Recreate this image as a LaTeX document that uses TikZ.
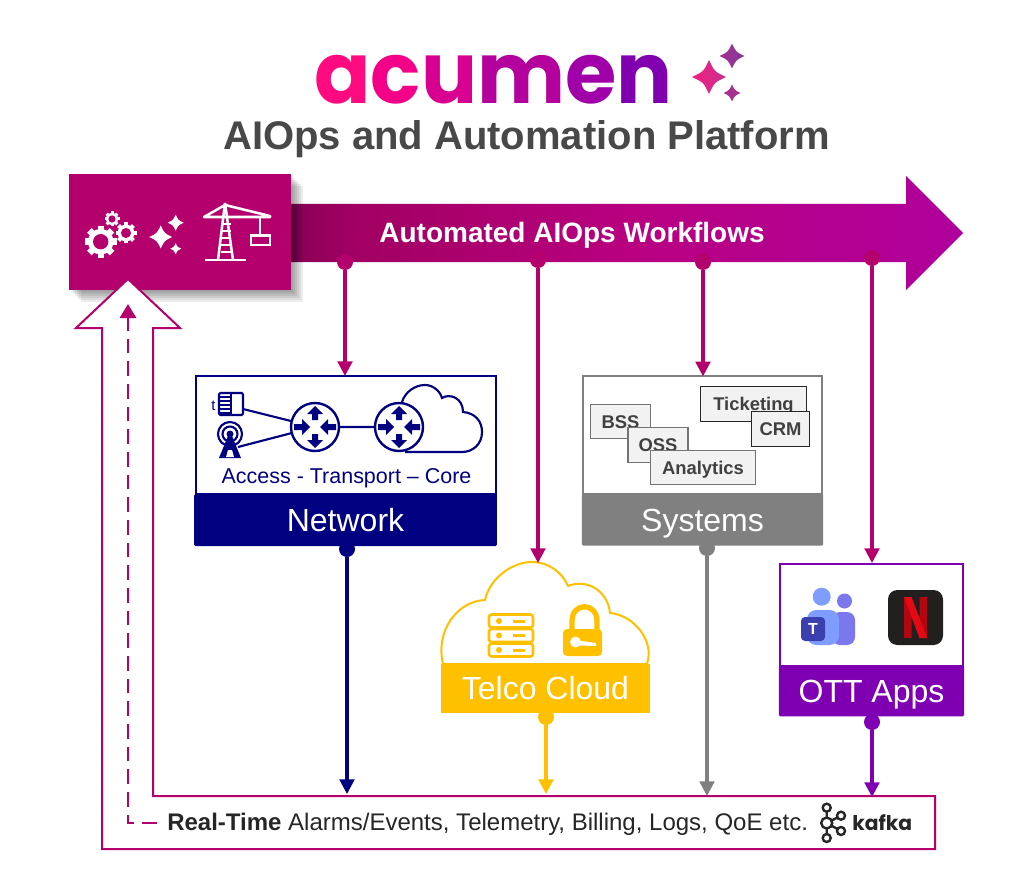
\documentclass[tikz,border=0pt]{standalone}
\usepackage{fontspec}
\setmainfont{Liberation Sans}
\newfontfamily\logofont{Poppins}
\usetikzlibrary{positioning}
\usetikzlibrary{arrows.meta}
\definecolor{acuPink}{HTML}{B4006C}
\definecolor{netBlue}{HTML}{000080}
\definecolor{sysGray}{HTML}{808080}
\definecolor{telcoGold}{HTML}{FFC000}
\definecolor{ottPurple}{HTML}{7F00B2}
\definecolor{titleGray}{HTML}{484848}
\definecolor{flowA}{HTML}{8A0058}
\definecolor{flowB}{HTML}{A20062}
\definecolor{flowC}{HTML}{B80080}
\definecolor{flowD}{HTML}{B0009C}
\definecolor{pinkA}{HTML}{F0207F}
\definecolor{pinkB}{HTML}{C8308F}
\definecolor{pinkC}{HTML}{A8308F}
\definecolor{pinkD}{HTML}{7F3A9F}
\definecolor{teamsA}{HTML}{7F9CFF}
\definecolor{teamsB}{HTML}{7B78EE}
\definecolor{teamsC}{HTML}{3A40AE}
\definecolor{netflixK}{HTML}{221F1F}
\definecolor{netflixA}{HTML}{E50914}
\definecolor{netflixB}{HTML}{B20710}
\pgfdeclarehorizontalshading{workflowShade}{100bp}{
  color(0bp)=(flowA); color(25bp)=(flowA); color(30bp)=(flowB);
  color(50bp)=(flowC); color(75bp)=(flowD); color(100bp)=(flowD)}
\tikzset{
  gear/.pic={
    \foreach \a in {0,45,...,315} {\fill[white,rotate=\a] (-.2,-1) rectangle (.2,-.7);}
    \fill[white] (0,0) circle (.8);
    \fill[acuPink] (0,0) circle (.48);
  },
  sparkle/.pic={
    \path[pic actions] (0,-1) .. controls (.32,-.32) .. (1,0) .. controls (.32,.32) .. (0,1)
      .. controls (-.32,.32) .. (-1,0) .. controls (-.32,-.32) .. (0,-1) -- cycle;
  },
  router/.pic={
    \draw[netBlue,line width=1.8pt,fill=white] (0,0) circle (24);
    \foreach \a in {0,180} {
      \fill[netBlue,rotate=\a] (-3,-7) rectangle (3,-13) (-8,-13) -- (8,-13) -- (0,-21) -- cycle;
    }
    \foreach \a in {90,270} {
      \fill[netBlue,rotate=\a] (-3,-13) rectangle (3,-21) (-8,-13) -- (8,-13) -- (0,-5) -- cycle;
    }
  }
}
\begin{document}
\begin{tikzpicture}[x=0.75pt,y=-0.75pt]
      \tikzstyle{panel} = [draw, line width=1.5pt, fill=white, outer sep=0pt, inner sep=0pt]
      \tikzstyle{banner} = [rounded corners=1pt, text=white, outer sep=0pt, inner sep=0pt, text height=17pt, text depth=0pt, font=\fontsize{24pt}{28pt}\selectfont]
      \tikzstyle{tool} = [draw, line width=0.9pt, fill=black!5, text=black!75, inner sep=0pt, outer sep=0pt, text height=10pt, text depth=0pt, font=\fontsize{13.8pt}{16pt}\selectfont\bfseries]
      \tikzstyle{dot} = [circle, inner sep=0pt, outer sep=0pt, minimum size=12pt]
      \tikzstyle{flow} = [line width=2.3pt, -{Triangle[length=11pt,width=11pt]}]
      \tikzstyle{icon} = [netBlue, line width=1.6pt]

      \useasboundingbox (0,0) rectangle (1020,891);
      \fill[white] (0,0) rectangle (1020,891);

      % logo
      \node (logoText) [anchor=base west, inner sep=0pt, xscale=.975, transform shape, font=\logofont\bfseries\fontsize{64pt}{70pt}\selectfont] at (314,104) {\textcolor[HTML]{FF0A80}{a}\textcolor[HTML]{F40088}{c}\textcolor[HTML]{D80090}{u}\textcolor[HTML]{B4009C}{m}\textcolor[HTML]{A000A8}{e}\textcolor[HTML]{8000B0}{n}};
      \pic[scale=17, left color=pinkA, right color=pinkB] at (709,77) {sparkle};
      \pic[scale=12.5, left color=pinkC, right color=pinkD] at (732,56) {sparkle};
      \pic[scale=8.5, fill=pinkC] at (732,93) {sparkle};
      \node (title) [inner sep=0pt, text=titleGray, font=\fontsize{30pt}{34pt}\selectfont\bfseries] at (526.5,139) {AIOps and Automation Platform};

      % workflow arrow
      \path[shading=workflowShade] (291,204) -- (906,204) -- (906,176) -- (963,233) -- (906,290) -- (906,262) -- (291,262) -- cycle;
      \node (workflows) [inner sep=0pt, text=white, font=\fontsize{21pt}{25pt}\selectfont\bfseries] at (572,235) {Automated AIOps Workflows};

      % control box with a soft shadow
      \foreach \s in {2,4,...,12} {
        \fill[black, opacity=0.07] (69+\s,174+\s) rectangle (291+\s,290+\s);
      }
      \node (control) [fill=acuPink, minimum width=166.5pt, minimum height=87pt, inner sep=0pt, outer sep=0pt] at (180,232) {};
      \pic[scale=16] at (100.7,241.7) {gear};
      \pic[scale=10.5] at (126,233) {gear};
      \pic[scale=7.5] at (112,219) {gear};
      \pic[scale=11.5, fill=white] at (160.7,237) {sparkle};
      \pic[scale=8, fill=white] at (175.7,222.7) {sparkle};
      \pic[scale=5.5, fill=white] at (175.7,248.7) {sparkle};
      \begin{scope}[white, line width=1.9pt]
        \draw (205,260) -- (246,260);
        \draw (225,203) -- (218,260) (225,203) -- (233,260);
        \foreach \y in {224,231,238,245,252} { \draw (220.5,\y) -- (230.5,\y); }
        \draw[line join=round] (204,217) -- (225,205) -- (270,216) -- (270,217) -- cycle;
        \draw (260,217) -- (260,235);
        \draw[line width=2.2pt] (251,235.5) rectangle (270,245);
      \end{scope}

      % feedback arrow and event bus
      \draw[acuPink, line width=1.5pt, fill=white] (102,849) -- (935,849) -- (935,796) -- (153,796) -- (153,328) -- (180,328) -- (128,279) -- (76,328) -- (102,328) -- cycle;
      \node (realTime) [anchor=west, inner sep=0pt, text=black!85, font=\fontsize{18pt}{21pt}\selectfont] at (167,824) {\textbf{Real-Time} Alarms/Events, Telemetry, Billing, Logs, QoE etc.};
      \coordinate (dashStart) at (157,823);
      \coordinate (dashEnd) at (128,304);
      \draw[acuPink, line width=2.2pt, dash pattern=on 11pt off 6pt, -{Triangle[length=10.5pt,width=12pt]}] (dashStart) -| (dashEnd);

      % kafka
      \begin{scope}[black!85, line width=1.8pt]
        \draw (826.7,807.7) -- (826.7,838) (841,815.7) -- (826.7,823) -- (841,831);
        \foreach \p/\r in {826.7/807.7, 826.7/838, 841/815.7, 841/831} {
          \draw[fill=white] (\p,\r) circle (4);
        }
        \draw[fill=white] (826.7,823) circle (5.5);
      \end{scope}
      \node (kafka) [anchor=west, inner sep=0pt, text=black!85, font=\logofont\bfseries\fontsize{15.2pt}{19pt}\selectfont] at (852,823) {kafka};

      % network
      \node (network) [panel, draw=netBlue, minimum width=225pt, minimum height=88.5pt] at (345.5,435) {};
      \node (networkBanner) [banner, fill=netBlue, minimum width=227pt, minimum height=39pt, below = 0pt of network] {Network};
      \node (access) [inner sep=0pt, text=netBlue, font=\fontsize{16.1pt}{19pt}\selectfont] at (346.5,478) {Access - Transport -- Core};
      \draw[icon, fill=white] (402,402) .. controls (405,392) and (415,385) .. (425,385) .. controls (433,385) and (440,391) .. (442,398) .. controls (450,393) and (463,398) .. (463,412) .. controls (475,413) and (482,421) .. (482,432) .. controls (482,444) and (473,452) .. (462,452) -- (405,452);
      \coordinate (routerA) at (315,427);
      \coordinate (routerB) at (399,427);
      \coordinate (device) at (243,409);
      \coordinate (antenna) at (238,447);
      \draw[icon] (device) -- (routerA) (antenna) -- (routerA) (routerA) -- (routerB);
      \pic at (routerA) {router};
      \pic at (routerB) {router};
      \draw[icon, rounded corners=1pt] (219,393) rectangle (243,415);
      \draw[icon] (231,393) -- (231,415);
      \foreach \y in {397,401,405,409,413} { \draw[netBlue, line width=1pt] (219,\y) -- (231,\y); }
      \node (deviceT) [inner sep=0pt, text=netBlue, font=\fontsize{11pt}{12pt}\selectfont] at (213.5,406) {t};
      \draw[icon] (230,434) circle (12) (230,434) circle (7.5);
      \fill[netBlue] (230,434) circle (3.5) (228,436) -- (232,436) -- (241,458) -- (219,458) -- cycle;
      \fill[white] (228,450) -- (232,450) -- (234,457) -- (226,457) -- cycle;

      % systems
      \node (systems) [panel, draw=sysGray, minimum width=179pt, minimum height=88pt] at (702.5,435) {};
      \node (systemsBanner) [banner, fill=sysGray, minimum width=181pt, minimum height=39pt, below = 0pt of systems] {Systems};
      \node (bss) [tool, draw=black!55, minimum width=45pt, minimum height=26pt] at (620.5,421.5) {BSS};
      \node (oss) [tool, draw=black!55, minimum width=45pt, minimum height=26pt] at (658,445) {OSS};
      \node (analytics) [tool, draw=black!55, minimum width=79pt, minimum height=26pt] at (703,467.5) {Analytics};
      \node (ticketing) [tool, draw=black!85, minimum width=79pt, minimum height=26pt] at (753.5,404) {Ticketing};
      \node (crm) [tool, draw=black!85, minimum width=44pt, minimum height=26pt] at (780.5,429) {CRM};

      % telco cloud
      \draw[telcoGold, line width=1.5pt, fill=white] (443,664) .. controls (435,630) and (458,601) .. (485,600) .. controls (490,578) and (512,562) .. (532,562) .. controls (548,562) and (562,572) .. (568,586) .. controls (588,578) and (608,592) .. (610,613) .. controls (633,615) and (655,640) .. (647,664) -- cycle;
      \node (telcoBanner) [fill=telcoGold, text=white, inner sep=0pt, outer sep=0pt, minimum width=157pt, minimum height=37pt, font=\fontsize{24pt}{28pt}\selectfont] at (545.5,688.5) {Telco Cloud};
      \foreach \y in {621,635.5,650} {
        \draw[telcoGold, line width=1.9pt, rounded corners=2pt] (489,\y-6.5) rectangle (533,\y+6.5);
        \fill[telcoGold] (499,\y) circle (3);
        \fill[telcoGold] (513,\y-1.5) rectangle (525,\y+1.5);
      }
      \draw[telcoGold, line width=4pt] (572,630) -- (572,621) .. controls (572,602) and (597,602) .. (597,621) -- (597,630);
      \fill[telcoGold, rounded corners=3pt] (563,629) rectangle (602,656);
      \fill[white] (575.5,642) circle (5.5) (578,640.5) -- (596,643) -- (596,646) -- (578,645.5) -- cycle;

      % ott apps
      \node (ott) [panel, draw=ottPurple, minimum width=137pt, minimum height=76pt] at (871.5,615) {};
      \node (ottBanner) [banner, fill=ottPurple, minimum width=139pt, minimum height=38pt, below = 0pt of ott] {OTT Apps};
      \fill[teamsA] (821.7,596.7) circle (9);
      \fill[teamsB] (844.5,601) circle (7.5);
      \fill[teamsB, rounded corners=6pt] (832,612) rectangle (855,645);
      \fill[teamsA, rounded corners=7pt] (807,610) rectangle (839,645);
      \node (teamsT) [fill=teamsC, text=white, rounded corners=3pt, inner sep=0pt, minimum size=18pt, font=\fontsize{12pt}{14pt}\selectfont\bfseries] at (813,629) {T};
      \fill[netflixK, rounded corners=7pt] (888,590) rectangle (943,645);
      \fill[netflixB] (904,597) rectangle (911.5,638) (919.5,597) rectangle (927,638);
      \fill[netflixA] (904,597) -- (911.5,597) -- (927,638) -- (919.5,638) -- cycle;

      % connectors from the workflow arrow
      \coordinate (cloudTop) at (538,563);
      \coordinate (ottTop) at (872,563);
      \foreach \n/\x/\y in {dotNet/345/262, dotCloud/538/260, dotSys/703/262, dotOtt/872/258} {
        \node (\n) [dot, fill=acuPink] at (\x,\y) {};
      }
      \draw[flow, acuPink] (dotNet) -- (dotNet |- network.north);
      \draw[flow, acuPink] (dotCloud) -- (cloudTop);
      \draw[flow, acuPink] (dotSys) -- (dotSys |- systems.north);
      \draw[flow, acuPink] (dotOtt) -- (ottTop);

      % connectors down to the event bus
      \coordinate (busNet) at (347,794);
      \coordinate (busCloud) at (546,794);
      \coordinate (busSys) at (707,796);
      \coordinate (busOtt) at (872,797);
      \node (netOut) [dot, fill=netBlue] at (347,549) {};
      \node (cloudOut) [dot, fill=telcoGold] at (546,717) {};
      \node (sysOut) [dot, fill=sysGray] at (707,548) {};
      \node (ottOut) [dot, fill=ottPurple] at (872,722) {};
      \draw[flow, netBlue] (netOut) -- (busNet);
      \draw[flow, telcoGold] (cloudOut) -- (busCloud);
      \draw[flow, sysGray] (sysOut) -- (busSys);
      \draw[flow, ottPurple] (ottOut) -- (busOtt);
    \end{tikzpicture}
\end{document}
